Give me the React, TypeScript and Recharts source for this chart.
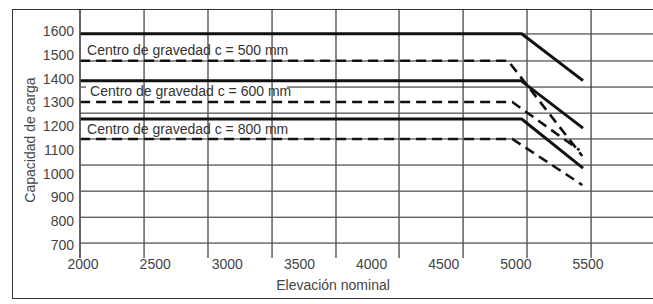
import React from 'react';
import { LineChart, Line, XAxis, YAxis, CartesianGrid, ReferenceDot, ReferenceLine, Label } from 'recharts';

// tick labels
const xTicks = [2000, 2500, 3000, 3500, 4000, 4500, 5000, 5500];
const yTicks = [700, 800, 900, 1000, 1100, 1200, 1300, 1400, 1500, 1600];

// the printed grid does not line up with the tick labels
const gridX = [1979, 2423, 2866, 3310, 3753, 4190, 4634, 5077, 5521];
const gridY = [1589, 1475, 1365, 1255, 1146, 1036, 926, 816, 707];
// the 1365 row is interrupted behind the "600 mm" note
const gapRow = 1365;
const gapFrom = 2021;
const gapTo = 3414;

// elevación nominal (x) / capacidad de carga (y)
const solid500 = [
  { x: 1980, y: 1590 },
  { x: 5040, y: 1590 },
  { x: 5465, y: 1392 },
];
const dashed500 = [
  { x: 1980, y: 1476 },
  { x: 4945, y: 1476 },
  { x: 5460, y: 1074 },
];
const solid600 = [
  { x: 1980, y: 1392 },
  { x: 5035, y: 1392 },
  { x: 5465, y: 1192 },
];
const dashed600 = [
  { x: 1980, y: 1302 },
  { x: 4975, y: 1302 },
  { x: 5440, y: 1099 },
];
const solid800 = [
  { x: 1980, y: 1230 },
  { x: 5040, y: 1230 },
  { x: 5465, y: 1023 },
];
const dashed800 = [
  { x: 1980, y: 1146 },
  { x: 4975, y: 1146 },
  { x: 5460, y: 952 },
];

const notes = [
  { text: 'Centro de gravedad c = 500 mm', x: 2028, y: 1521 },
  { text: 'Centro de gravedad c = 600 mm', x: 2049, y: 1348 },
  { text: 'Centro de gravedad c = 800 mm', x: 2028, y: 1189 },
];

const FONT = '"Liberation Sans", Arial, sans-serif';
const TEXT = '#444';
const X_MIN = 1979;
const X_MAX = 5950;

const NoteShape = (text: string) => (props: any) => (
  <text x={props.cx} y={props.cy} dy="0.355em" fontSize={14} fill="#333" fontFamily={FONT}>
    {text}
  </text>
);

const YTitle = ({ viewBox }: any) => {
  const x = viewBox.x + 30;
  const y = viewBox.y + 130;
  return (
    <text
      x={x}
      y={y}
      dy="0.355em"
      transform={`rotate(-90, ${x}, ${y})`}
      textAnchor="middle"
      fontSize={14}
      fill={TEXT}
      fontFamily={FONT}
    >
      Capacidad de carga
    </text>
  );
};

const XTitle = ({ viewBox }: any) => (
  <text
    x={viewBox.x + 253}
    y={viewBox.y + 27}
    dy="0.355em"
    textAnchor="middle"
    fontSize={14}
    fill={TEXT}
    fontFamily={FONT}
  >
    Elevación nominal
  </text>
);

const series = [
  { key: 's500', data: solid500, dash: undefined, width: 3 },
  { key: 'd500', data: dashed500, dash: '10 6', width: 2.6 },
  { key: 's600', data: solid600, dash: undefined, width: 3 },
  { key: 'd600', data: dashed600, dash: '10 6', width: 2.6 },
  { key: 's800', data: solid800, dash: undefined, width: 3 },
  { key: 'd800', data: dashed800, dash: '10 6', width: 2.6 },
];

export default function App() {
  return (
    <div style={{ position: 'absolute', left: 0, top: 0, width: 653, height: 304, background: '#fff', overflow: 'hidden' }}>
      <div
        style={{
          position: 'absolute',
          left: 12,
          top: 9,
          width: 660,
          height: 290,
          border: '1.5px solid #333',
          boxSizing: 'border-box',
        }}
      />
      <LineChart
        width={653}
        height={304}
        margin={{ top: 10, right: 0, bottom: 0, left: 0 }}
        style={{ position: 'absolute', left: 0, top: 0, fontFamily: FONT }}
      >
        <CartesianGrid
          vertical={false}
          horizontalValues={gridY.filter((v) => v !== gapRow)}
          stroke="#222"
          strokeWidth={1}
        />
        <CartesianGrid horizontal={false} verticalValues={gridX} stroke="#555" strokeWidth={1.4} />
        <XAxis
          type="number"
          dataKey="x"
          domain={[X_MIN, X_MAX]}
          ticks={xTicks}
          interval={0}
          allowDataOverflow
          height={46}
          tickLine={false}
          axisLine={false}
          tickSize={0}
          tickMargin={1}
          tick={{ fill: TEXT, fontSize: 14 }}
        >
          <Label content={XTitle} />
        </XAxis>
        <YAxis
          type="number"
          dataKey="y"
          domain={[644, 1690]}
          ticks={yTicks}
          interval={0}
          allowDataOverflow
          width={80}
          tickLine={false}
          axisLine={{ stroke: '#555', strokeWidth: 1.4 }}
          tickSize={0}
          tickMargin={6}
          tick={{ fill: TEXT, fontSize: 14 }}
        >
          <Label content={YTitle} />
        </YAxis>
        {/* the broken grid row */}
        <ReferenceLine
          segment={[
            { x: X_MIN, y: gapRow },
            { x: gapFrom, y: gapRow },
          ]}
          stroke="#222"
          strokeWidth={1}
        />
        <ReferenceLine
          segment={[
            { x: gapTo, y: gapRow },
            { x: X_MAX, y: gapRow },
          ]}
          stroke="#222"
          strokeWidth={1}
        />
        {series.map((s) => (
          <Line
            key={s.key}
            data={s.data}
            dataKey="y"
            type="linear"
            stroke="#111"
            strokeWidth={s.width}
            strokeDasharray={s.dash}
            dot={false}
            activeDot={false}
            isAnimationActive={false}
          />
        ))}
        {notes.map((n) => (
          <ReferenceDot key={n.text} x={n.x} y={n.y} r={0} shape={NoteShape(n.text)} />
        ))}
      </LineChart>
    </div>
  );
}
